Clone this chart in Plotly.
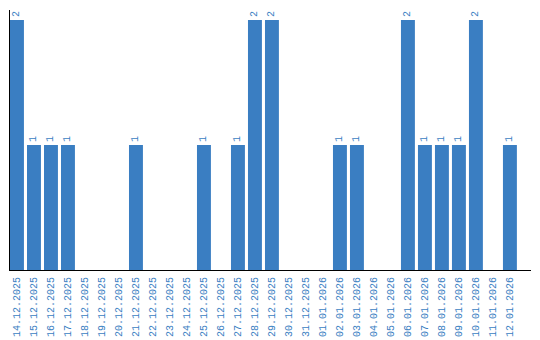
import plotly.graph_objects as go

dates = ["14.12.2025", "15.12.2025", "16.12.2025", "17.12.2025", "18.12.2025",
         "19.12.2025", "20.12.2025", "21.12.2025", "22.12.2025", "23.12.2025",
         "24.12.2025", "25.12.2025", "26.12.2025", "27.12.2025", "28.12.2025",
         "29.12.2025", "30.12.2025", "31.12.2025", "01.01.2026", "02.01.2026",
         "03.01.2026", "04.01.2026", "05.01.2026", "06.01.2026", "07.01.2026",
         "08.01.2026", "09.01.2026", "10.01.2026", "11.01.2026", "12.01.2026"]
counts = [2, 1, 1, 1, 0, 0, 0, 1, 0, 0, 0, 1, 0, 1, 2, 2, 0, 0, 0, 1, 1, 0, 0, 2, 1, 1, 1, 2, 0, 1]

blue = "#3a7ec2"
labels = [str(v) if v > 0 else "" for v in counts]

fig = go.Figure(go.Bar(
    x=dates, y=counts, marker_color=blue, marker_line_width=0,
    text=labels, textposition="outside", textangle=-90,
    textfont=dict(family="Liberation Mono", size=10, color=blue),
    cliponaxis=False, width=0.82,
))
fig.update_layout(
    width=540, height=340,
    margin=dict(l=10, r=9, t=10, b=70, autoexpand=False),
    paper_bgcolor="white", plot_bgcolor="white",
    showlegend=False, bargap=0.18,
    uniformtext=dict(minsize=10, mode="show"),
)
fig.update_xaxes(
    type="category", range=[-0.41, 30.24], automargin=False,
    showline=True, linecolor="black", linewidth=1,
    showgrid=False, ticks="", tickangle=-90, ticklabelstandoff=2,
    tickfont=dict(family="Liberation Mono", size=10, color=blue),
)
fig.update_yaxes(
    range=[0, 2.08], showline=True, linecolor="black", linewidth=1,
    showgrid=False, zeroline=False, showticklabels=False, ticks="",
    automargin=False,
)
fig.write_html("out.html")
